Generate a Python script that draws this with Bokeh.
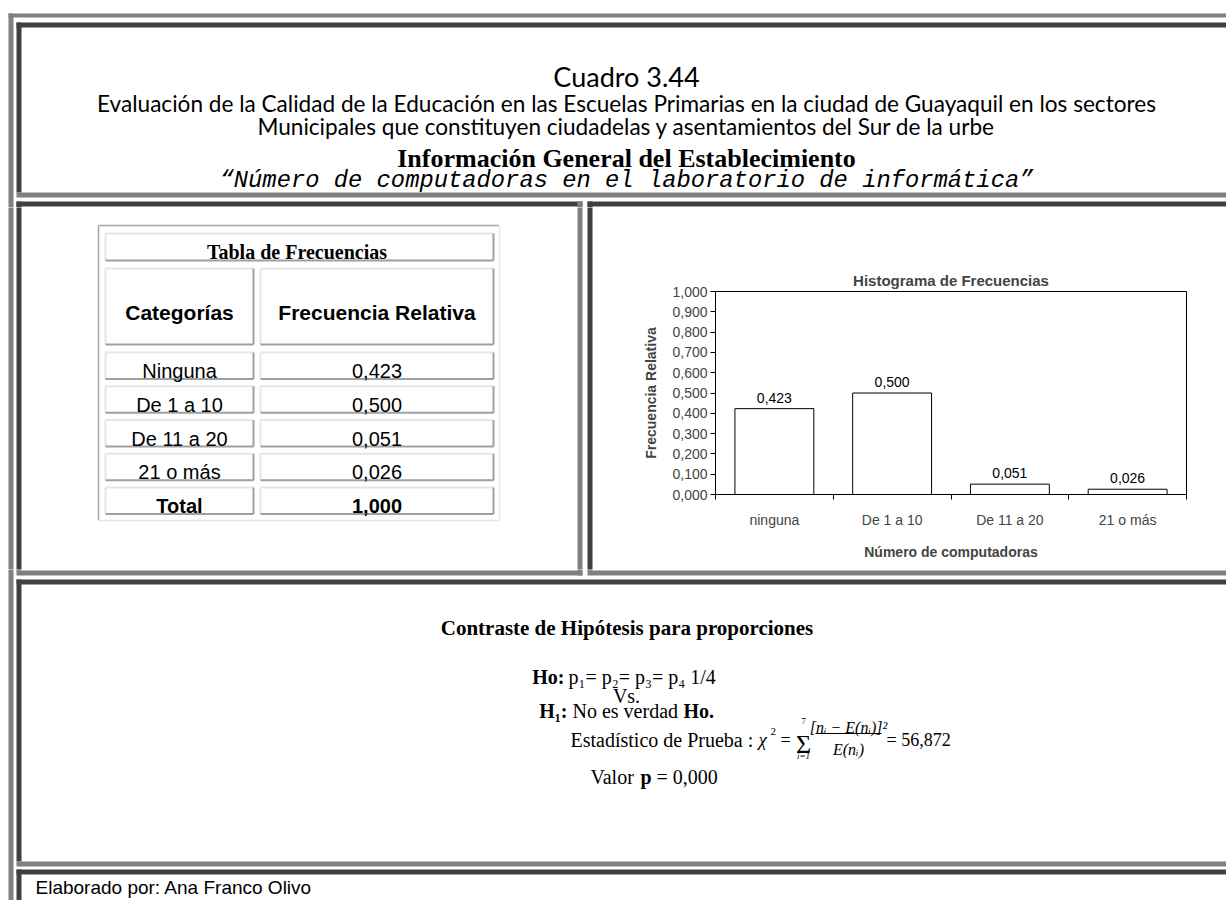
from bokeh.plotting import figure
from bokeh.layouts import column, row
from bokeh.models import Range1d, FixedTicker
from bokeh.core.properties import value
from bokeh.embed import file_html
from bokeh.resources import INLINE

# ---------------- data ----------------
CATEGORIES = ["ninguna", "De 1 a 10", "De 11 a 20", "21 o más"]
FREQ_REL = [0.423, 0.500, 0.051, 0.026]
BAR_LABELS = ["0,423", "0,500", "0,051", "0,026"]
Y_TICKS = [0.0, 0.1, 0.2, 0.3, 0.4, 0.5, 0.6, 0.7, 0.8, 0.9, 1.0]
Y_TICK_LABELS = ["0,000", "0,100", "0,200", "0,300", "0,400", "0,500",
                 "0,600", "0,700", "0,800", "0,900", "1,000"]
TABLE_ROWS = ["Ninguna", "De 1 a 10", "De 11 a 20", "21 o más", "Total"]
TABLE_VALUES = ["0,423", "0,500", "0,051", "0,026", "1,000"]

LIGHT = "#808080"
DARK = "#404040"
SERIF = "Liberation Serif"
SANS = "Liberation Sans"
MONO = "Liberation Mono"
DECO = "Lato"

# page extent (reference pixel coordinates)
PX0, PX1, PY0, PY1 = 0, 1226, 0, 900

# frame bands (reference pixel coordinates)
BANDS = [
    (8, 1232, 13, 17, LIGHT), (8, 13, 13, 906, LIGHT),
    (16, 1232, 22, 27, DARK), (16, 21, 22, 192, DARK), (16, 1232, 192, 197, LIGHT),
    (16, 582, 201, 206, DARK), (16, 21, 201, 570, DARK), (577, 582, 201, 575, LIGHT),
    (16, 582, 570, 575, LIGHT),
    (587, 1232, 201, 206, DARK), (587, 592, 201, 570, DARK), (587, 1232, 570, 575, LIGHT),
    (16, 1232, 579, 584, DARK), (16, 21, 579, 861, DARK), (16, 1232, 861, 866, LIGHT),
    (16, 1232, 869, 874, DARK), (16, 21, 869, 906, DARK),
]


def canvas(x0, x1, y0, y1):
    f = figure(width=x1 - x0, height=y1 - y0, title=None,
               x_range=Range1d(x0, x1), y_range=Range1d(y1, y0),
               x_axis_location=None, y_axis_location=None,
               output_backend="svg", toolbar_location=None,
               min_border=0, outline_line_color=None,
               background_fill_color="white", border_fill_color="white")
    f.grid.visible = False
    f.quad(left=[b[0] for b in BANDS], right=[b[1] for b in BANDS],
           top=[b[2] for b in BANDS], bottom=[b[3] for b in BANDS],
           fill_color=[b[4] for b in BANDS], line_color=None)
    return f


def no_align(f):
    try:
        f.frame_align = False
    except Exception:
        pass


def txt(f, x, y, s, size, font, style="normal", align="left", baseline="alphabetic"):
    f.text(x=[x], y=[y], text=[s], text_font=value(font), text_font_size=f"{size}px",
           text_font_style=style, text_align=align, text_baseline=baseline,
           text_color="black")


# ---------------- header ----------------
header = canvas(PX0, PX1, PY0, 207)
CX = 626
txt(header, CX, 76, "Cuadro 3.44", 27, DECO, align="center")
txt(header, CX, 103, "Evaluación de la Calidad de la Educación en las Escuelas Primarias en la ciudad de Guayaquil en los sectores", 22.6, DECO, align="center")
txt(header, CX, 126, "Municipales que constituyen ciudadelas y asentamientos del Sur de la urbe", 22.6, DECO, align="center")
txt(header, CX, 158, "Información General del Establecimiento", 26, SERIF, style="bold", align="center")
txt(header, CX, 180, "\u201cNúmero de computadoras en el laboratorio de informática\u201d", 23.8, MONO, style="italic", align="center")

# ---------------- left panel: table ----------------
left = canvas(PX0, 593, 207, 569)
no_align(left)
left.segment(x0=[98, 98], y0=[225, 225], x1=[499, 98], y1=[225, 520], line_color="#a8a8a8", line_width=1.5)
left.segment(x0=[499, 98], y0=[225, 520], x1=[499, 499], y1=[520, 520], line_color="#e6e6e6", line_width=1.5)

cells = [(105, 493, 233, 260), (105, 253, 268, 344), (260, 493, 268, 344)]
row_tops = []
for i in range(len(TABLE_ROWS)):
    t = 352 + i * 33.75
    row_tops.append(t)
    cells.append((105, 253, t, t + 26.5))
    cells.append((260, 493, t, t + 26.5))

lx0, ly0, lx1, ly1, dx0, dy0, dx1, dy1 = [], [], [], [], [], [], [], []
for (a, b, c, d) in cells:
    lx0 += [a, a]; ly0 += [c, c]; lx1 += [b, a]; ly1 += [c, d]
    dx0 += [a, b]; dy0 += [d, c]; dx1 += [b, b]; dy1 += [d, d]
left.segment(x0=lx0, y0=ly0, x1=lx1, y1=ly1, line_color="#e6e6e6", line_width=2)
left.segment(x0=dx0, y0=dy0, x1=dx1, y1=dy1, line_color="#a0a0a0", line_width=2)

txt(left, 299, 251, "Tabla  de Frecuencias", 20, SERIF, style="bold", align="center")
txt(left, 179, 312, "Categorías", 21, SANS, style="bold", align="center")
txt(left, 376.5, 312, "Frecuencia Relativa", 21, SANS, style="bold", align="center")
for i, (lab, val) in enumerate(zip(TABLE_ROWS, TABLE_VALUES)):
    st = "bold" if i == len(TABLE_ROWS) - 1 else "normal"
    txt(left, 179, row_tops[i] + 18.5, lab, 20, SANS, style=st, align="center")
    txt(left, 376.5, row_tops[i] + 18.5, val, 20, SANS, style=st, align="center")

# ---------------- right panel: histogram ----------------
n_cat = len(CATEGORIES)
bar_x = [i + 0.5 for i in range(n_cat)]
hist = figure(width=PX1 - 593, height=362, x_range=Range1d(0, n_cat), y_range=Range1d(0, 1),
              x_axis_location="below", y_axis_location="left",
              output_backend="svg", toolbar_location=None,
              min_border_left=122, min_border_right=PX1 - 1186, min_border_top=84, min_border_bottom=75,
              title="Histograma de Frecuencias",
              outline_line_color="black", outline_line_width=1,
              background_fill_color="white", border_fill_color="white")
no_align(hist)
hist.grid.visible = False
hist.title.align = "center"
hist.title.text_font = SANS
hist.title.text_font_size = "15px"
hist.title.text_font_style = "bold"
hist.title.standoff = 6

yax = hist.yaxis[0]
yax.ticker = FixedTicker(ticks=Y_TICKS)
yax.major_label_overrides = dict(zip(Y_TICKS, Y_TICK_LABELS))
yax.major_tick_out = 5
yax.major_tick_in = 0
yax.minor_tick_out = 0
yax.minor_tick_in = 0
yax.major_label_standoff = 3
yax.major_label_text_font = SANS
yax.major_label_text_font_size = "14px"
yax.axis_line_color = "black"
yax.axis_label = "Frecuencia Relativa"
yax.axis_label_text_font = SANS
yax.axis_label_text_font_size = "14px"
yax.axis_label_text_font_style = "bold"
yax.axis_label_standoff = 10

# category names at bar centres, Excel-style tick marks at the category boundaries
xax = hist.xaxis[0]
xax.ticker = FixedTicker(ticks=bar_x, minor_ticks=list(range(n_cat + 1)))
xax.major_label_overrides = dict(zip(bar_x, CATEGORIES))
xax.major_tick_out = 0
xax.major_tick_in = 0
xax.minor_tick_out = 5
xax.minor_tick_in = 0
xax.axis_line_color = "black"
xax.major_label_standoff = 12
xax.major_label_text_font = SANS
xax.major_label_text_font_size = "14px"
xax.axis_label = "Número de computadoras"
xax.axis_label_text_font = SANS
xax.axis_label_text_font_size = "14px"
xax.axis_label_text_font_style = "bold"
xax.axis_label_standoff = 13

hist.vbar(x=bar_x, top=FREQ_REL, width=0.67, fill_color="white",
          line_color="black", line_width=1)
hist.text(x=bar_x, y=FREQ_REL, text=BAR_LABELS, text_align="center",
          text_baseline="bottom", y_offset=-6, text_font=value(SANS),
          text_font_size="14px", text_color="black")

# ---------------- bottom: hypothesis test + footer ----------------
bottom = canvas(PX0, PX1, 569, PY1)
txt(bottom, 626.5, 627, "Contraste de Hipótesis para proporciones", 21, SERIF, style="bold", align="center")
txt(bottom, 564, 676, "Ho:", 20, SERIF, style="bold", align="right")
txt(bottom, 568, 676, "p\u2081= p\u2082= p\u2083= p\u2084 1/4", 20, SERIF)
txt(bottom, 626, 695, "Vs.", 20, SERIF, align="center")
txt(bottom, 567, 710, "H\u2081:", 20, SERIF, style="bold", align="right")
txt(bottom, 572, 710, "No es verdad", 20, SERIF)
txt(bottom, 683, 710, "Ho.", 20, SERIF, style="bold")

BL = 739
txt(bottom, 570, BL, "Estadístico de Prueba :", 20, SERIF)
txt(bottom, 758, BL, "\u03c7", 19, SERIF, style="italic")
txt(bottom, 770, BL - 8, "2", 11, SERIF)
txt(bottom, 780, BL, "=", 18, SERIF)
txt(bottom, 803, BL + 5, "\u03a3", 26, SERIF, align="center")
txt(bottom, 803, BL - 19, "7", 9, SERIF, align="center")
txt(bottom, 803, BL + 16, "i=1", 9, SERIF, style="italic", align="center")
txt(bottom, 848, BL - 12, "[n\u1d62 \u2212 E(n\u1d62)]\u00b2", 16, SERIF, style="italic", align="center")
bottom.segment(x0=[815], y0=[BL - 6], x1=[881], y1=[BL - 6], line_color="black", line_width=1)
txt(bottom, 848, BL + 10, "E(n\u1d62)", 16, SERIF, style="italic", align="center")
txt(bottom, 886, BL, "= 56,872", 18, SERIF)

txt(bottom, 590, 776, "Valor", 20, SERIF)
txt(bottom, 640, 776, "p", 20, SERIF, style="bold")
txt(bottom, 656, 776, "= 0,000", 20, SERIF)

txt(bottom, 35, 887, "Elaborado por: Ana Franco Olivo", 19, SANS)

layout = column(header, row(left, hist, spacing=0), bottom, spacing=0)
open("out.html", "w").write(file_html(layout, INLINE, title="Cuadro 3.44"))
